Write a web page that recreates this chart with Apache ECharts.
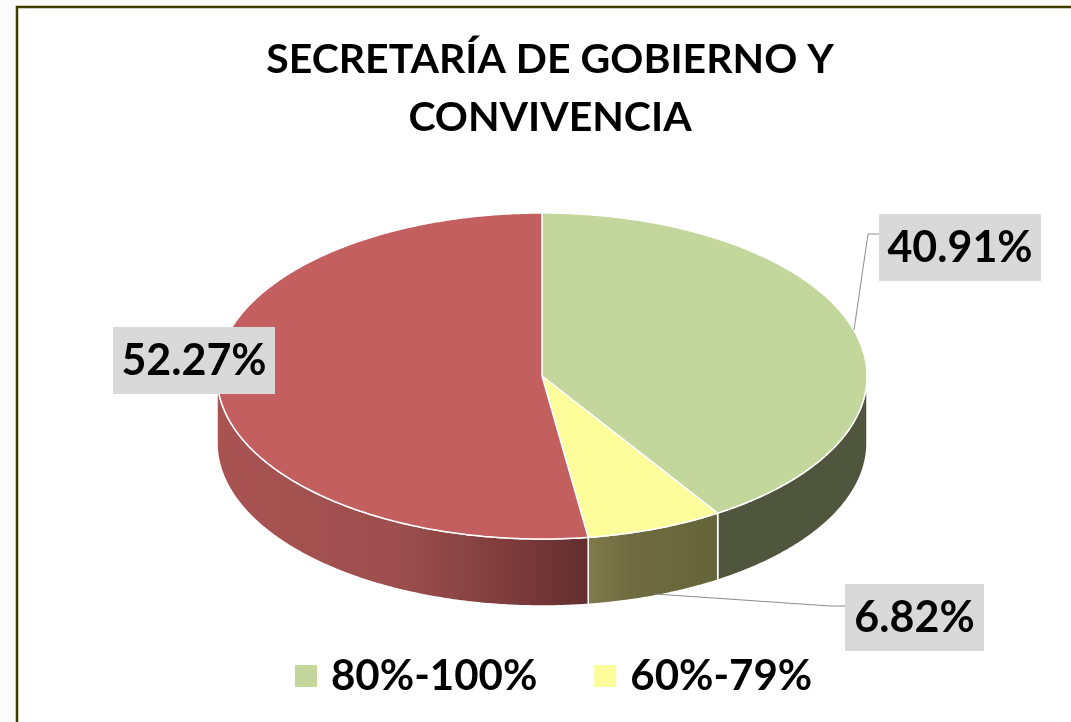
<!DOCTYPE html>
<html>
<head>
<meta charset="utf-8">
<title>Secretaría de Gobierno y Convivencia</title>
<script src="https://cdn.jsdelivr.net/npm/echarts@6/dist/echarts.min.js"></script>
<style>
  html, body { margin: 0; padding: 0; background: #fbfbfc; }
  #chart { width: 1071px; height: 722px; }
</style>
</head>
<body>
<div id="chart"></div>
<script>
const categories = ["80%-100%", "60%-79%", "0%-59%"];
const shares = [40.91, 6.82, 52.27];
const legendItems = ["80%-100%", "60%-79%"];

const FONT = "Lato, 'Open Sans', sans-serif";
const CX = 542, CY = 376, RX = 325, RY = 163, DEPTH = 67;
const total = shares.reduce((a, b) => a + b, 0);

const topColors = ["#c3d69b", "#fdfd9b", "#c45f5f"];
// rim shading, left to right
const wallStops = [
  [[0, "#50553e"], [1, "#50553e"]],
  [[0, "#807b4c"], [0.35, "#6e6b40"], [1, "#65653a"]],
  [[0, "#a95351"], [0.5, "#9b4f4d"], [0.8, "#7c3b3c"], [1, "#632e2f"]],
];
// label box: left, top, width, height, then the leader line that joins it to the pie
const labelBoxes = [
  { x: 879, y: 214, w: 162, h: 67, leader: [[854, 330], [868, 234], [879, 234]] },
  { x: 845, y: 584, w: 139, h: 67, leader: [[655, 594], [830, 606], [845, 606]] },
  { x: 113, y: 327, w: 162, h: 67, leader: null },
];

// angles run clockwise from 12 o'clock, in degrees
function edgePoint(deg, drop) {
  const rad = (deg * Math.PI) / 180;
  return [CX + RX * Math.sin(rad), CY - RY * Math.cos(rad) + (drop || 0)];
}

function arcPoints(from, to, drop) {
  const pts = [];
  const steps = Math.max(2, Math.ceil(Math.abs(to - from) * 2));
  for (let i = 0; i <= steps; i++) {
    pts.push(edgePoint(from + ((to - from) * i) / steps, drop));
  }
  return pts;
}

function makeRenderItem(index) {
  return function (params, api) {
    const before = shares.slice(0, index).reduce((a, b) => a + b, 0);
    const start = (before / total) * 360;
    const end = start + (api.value(0) / total) * 360;
    const children = [];

    // only the front half of the rim is visible
    const wallFrom = Math.max(start, 90);
    const wallTo = Math.min(end, 270);
    if (wallTo > wallFrom) {
      const left = edgePoint(wallTo)[0];
      const right = edgePoint(wallFrom)[0];
      const stops = wallStops[index].map((s) => ({ offset: s[0], color: s[1] }));
      children.push({
        type: "polygon",
        shape: { points: arcPoints(wallFrom, wallTo, 0).concat(arcPoints(wallTo, wallFrom, DEPTH)) },
        style: {
          fill: new echarts.graphic.LinearGradient(left, 0, right, 0, stops, true),
          stroke: "#ffffff",
          lineWidth: 1.5,
        },
      });
    }

    children.push({
      type: "polygon",
      shape: { points: [[CX, CY]].concat(arcPoints(start, end, 0)) },
      style: { fill: topColors[index], stroke: "#ffffff", lineWidth: 1.5 },
    });

    const box = labelBoxes[index];
    if (box.leader) {
      children.push({
        type: "polyline",
        shape: { points: box.leader },
        style: { fill: null, stroke: "#8c8c8c", lineWidth: 1 },
      });
    }
    children.push({
      type: "rect",
      shape: { x: box.x, y: box.y, width: box.w, height: box.h },
      style: { fill: "#d9d9d9" },
    });
    children.push({
      type: "text",
      style: {
        text: api.value(0).toFixed(2) + "%",
        x: box.x + box.w / 2,
        y: box.y + box.h / 2 + 1,
        align: "center",
        verticalAlign: "middle",
        fill: "#000000",
        font: "bold 43px " + FONT,
      },
    });
    return { type: "group", children: children };
  };
}

const chart = echarts.init(document.getElementById("chart"));
chart.setOption({
  animation: false,
  graphic: [
    {
      type: "rect",
      z: -1,
      shape: { x: 17, y: 7, width: 1200, height: 900 },
      style: { fill: "#ffffff", stroke: "#3f3f00", lineWidth: 2.5 },
    },
  ],
  title: {
    text: "SECRETARÍA DE GOBIERNO Y\nCONVIVENCIA",
    left: 545,
    top: 26,
    textAlign: "center",
    textStyle: { fontFamily: FONT, fontWeight: "bold", fontSize: 41, lineHeight: 58, color: "#000000" },
  },
  legend: {
    data: legendItems,
    left: 290,
    top: 650,
    icon: "rect",
    itemWidth: 22,
    itemHeight: 22,
    itemGap: 57,
    selectedMode: false,
    textStyle: { fontFamily: FONT, fontWeight: "bold", fontSize: 42, color: "#000000", padding: [0, 0, 0, 9] },
  },
  series: categories.map((name, i) => ({
    type: "custom",
    name: name,
    coordinateSystem: "none",
    silent: true,
    itemStyle: { color: topColors[i] },
    data: [[shares[i]]],
    renderItem: makeRenderItem(i),
  })),
});
</script>
</body>
</html>
